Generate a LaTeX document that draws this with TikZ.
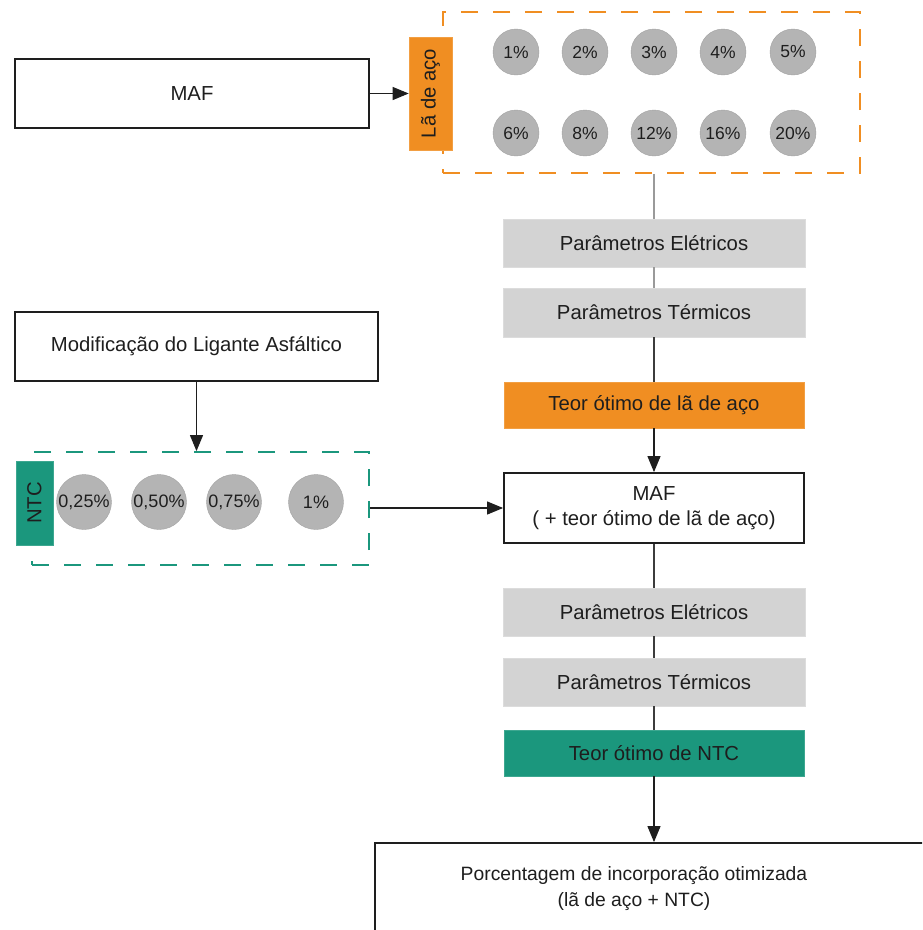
\documentclass[tikz,border=0pt]{standalone}
\usepackage{fontspec}
\setmainfont{Liberation Sans}
\usetikzlibrary{arrows.meta}
\definecolor{laorange}{HTML}{F08E22}
\definecolor{ntcgreen}{HTML}{1B977D}
\definecolor{dotgray}{HTML}{B4B4B4}
\definecolor{parfill}{HTML}{D3D3D3}
\definecolor{parline}{HTML}{DCDCDC}
\definecolor{inkdark}{HTML}{1E1E1E}
\definecolor{linkgray}{HTML}{9A9A9A}
\definecolor{linkdark}{HTML}{3C3C3C}
\tikzset{
  txt/.style={font=\fontsize{20.3}{25}\selectfont, text=inkdark, align=center, inner sep=0pt},
  whitebox/.style={txt, draw=inkdark, line width=1.8pt, fill=white},
  parbox/.style={txt, fill=parfill, draw=parline, line width=0.8pt, minimum width=302pt, minimum height=48pt},
  orangebox/.style={txt, fill=laorange, draw=laorange!85!white, line width=0.6pt},
  greenbox/.style={txt, fill=ntcgreen, draw=ntcgreen!85!white, line width=0.6pt},
  dot/.style={circle, fill=dotgray, draw=dotgray!90!black, line width=0.4pt, inner sep=0pt,
    font=\fontsize{17.5}{20}\selectfont, text=inkdark},
  dashgroup/.style={draw=#1, line width=1.8pt, dash pattern=on 17pt off 15pt, inner sep=0pt},
  arrowline/.style={draw=inkdark, line width=1.1pt, -{Triangle[length=16pt,width=13pt]}},
  thinlink/.style={draw=linkgray, line width=1.2pt},
  darklink/.style={draw=linkdark, line width=1.2pt},
}
\begin{document}
\begin{tikzpicture}[x=1pt,y=-1pt]
\useasboundingbox (0,0) rectangle (922,930);
\clip (0,0) rectangle (922,930);

% steel wool branch
\node[whitebox, minimum width=354pt, minimum height=69pt] (maf) at (192,93.5) {MAF};
\node[dashgroup=laorange, minimum width=417pt, minimum height=161pt] (lagroup) at (651.5,92.5) {};
\node[orangebox, minimum width=43pt, minimum height=113pt] (latab) at (430.5,93.5) {};
\node[txt, rotate=90] at (latab.center) {Lã de aço};
\foreach \name/\px/\py/\lbl in {c1/516/52/1\%, c2/585/52/2\%, c3/654/52/3\%, c4/723/52/4\%, c5/793/52/5\%,
  c6/516/133/6\%, c8/585/133/8\%, c12/654/133/12\%, c16/723/133/16\%, c20/793/133/20\%}
  \node[dot, minimum size=46pt] (\name) at (\px,\py) {\lbl};

\node[parbox] (pe1) at (654,243) {Parâmetros Elétricos};
\node[parbox, minimum height=49pt] (pt1) at (654,312.5) {Parâmetros Térmicos};
\node[orangebox, minimum width=300pt, minimum height=46pt] (teorla) at (654,405) {Teor ótimo de lã de aço};
\node[whitebox, minimum width=300pt, minimum height=70pt] (maf2) at (654,508) {MAF\\( + teor ótimo de lã de aço)};
\node[parbox] (pe2) at (654,612) {Parâmetros Elétricos};
\node[parbox] (pt2) at (654,682) {Parâmetros Térmicos};
\node[greenbox, minimum width=300pt, minimum height=46pt] (teorntc) at (654,753) {Teor ótimo de NTC};
\node[whitebox, minimum width=558pt, minimum height=92pt] (final) at (654,889) {};
\node[txt, font=\fontsize{19.3}{26}\selectfont] (finaltxt) at (634,889)
  {Porcentagem de incorporação otimizada\\(lã de aço + NTC)};

% carbon nanotube branch
\node[whitebox, minimum width=363pt, minimum height=69pt] (mod) at (196.5,346.5) {Modificação do Ligante Asfáltico};
\node[dashgroup=ntcgreen, minimum width=337pt, minimum height=113pt] (ntcgroup) at (200.5,508.5) {};
\node[greenbox, minimum width=37pt, minimum height=84pt] (ntctab) at (34.5,503) {};
\node[txt, rotate=90] at (ntctab.center) {NTC};
\foreach \name/\px/\lbl in {n1/84/{0,25\%}, n2/159/{0,50\%}, n3/234/{0,75\%}, n4/316/1\%}
  \node[dot, minimum size=55pt, font=\fontsize{18}{20}\selectfont] (\name) at (\px,502) {\lbl};

% connectors
\draw[arrowline] (maf.east) -- (latab.west);
\draw[thinlink] (pe1.north |- lagroup.south) -- (pe1.north);
\draw[thinlink] (pe1.south) -- (pt1.north);
\draw[darklink] (pt1.south) -- (teorla.north);
\draw[arrowline] (teorla.south) -- (maf2.north);
\draw[darklink] (maf2.south) -- (pe2.north);
\draw[darklink] (pe2.south) -- (pt2.north);
\draw[darklink] (pt2.south) -- (teorntc.north);
\draw[arrowline] (teorntc.south) -- (final.north);
\draw[arrowline] (mod.south) -- (mod.south |- ntcgroup.north);
\draw[arrowline] (ntcgroup.east |- maf2.west) -- (maf2.west);
\end{tikzpicture}
\end{document}
